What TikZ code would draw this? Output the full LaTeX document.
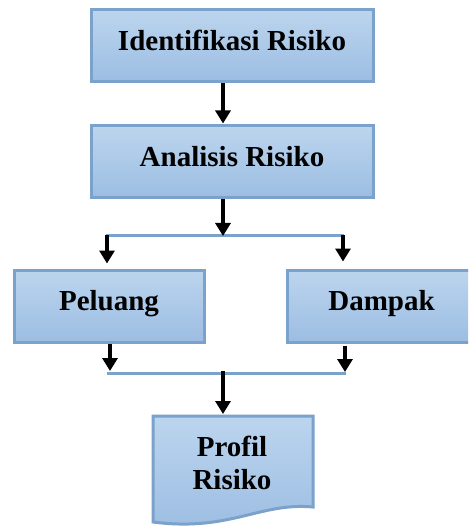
\documentclass[tikz,border=0pt]{standalone}
\usepackage{fontspec}
\setmainfont{Liberation Serif}
\usetikzlibrary{arrows.meta}
\definecolor{boxtop}{HTML}{BCD5EE}
\definecolor{boxbot}{HTML}{9CBDE2}
\definecolor{boxline}{HTML}{7BA2CA}
\tikzset{
  box/.style={draw=boxline, line width=3pt, top color=boxtop, bottom color=boxbot, rectangle, inner sep=0pt},
  txt/.style={font=\fontsize{29}{33}\selectfont\bfseries, inner sep=0pt, anchor=base, align=center},
  arr/.style={draw=black, line width=3.2pt, -{Triangle[width=15pt,length=13pt]}},
  bar/.style={draw=boxline, line width=3pt},
}
\begin{document}
\begin{tikzpicture}[x=1pt,y=-1pt]
\useasboundingbox (0,0) rectangle (468,526);
\clip (0,0) rectangle (468,526);
% boxes
\node[box, minimum width=282pt, minimum height=72pt] (b1) at (232,46) {};
\node[box, minimum width=282pt, minimum height=72pt] (b2) at (232,162) {};
\node[box, minimum width=190pt, minimum height=72pt] (b3) at (109,306) {};
\node[box, minimum width=200pt, minimum height=72pt] (b4) at (387,306) {};
% document shape
\path[box] (153,416) -- (313,416) -- (313,507) .. controls (260,502) and (230,532) .. (153,522) -- cycle;
\coordinate (b5top) at (223,416);
% texts
\node[txt] (t1) at (232,51) {Identifikasi Risiko};
\node[txt] (t2) at (232,167) {Analisis Risiko};
\node[txt] (t3) at (109,310) {Peluang};
\node[txt] (t4) at (381.5,310) {Dampak};
\node[txt] (t5) at (232,489) {Profil\\Risiko};
% coordinates
\coordinate (c1) at (223,0);
\coordinate (s1) at (106,235);
\coordinate (s2) at (344,235);
\coordinate (sm) at (223,235);
\coordinate (m1) at (107,373);
\coordinate (m2) at (346,373);
\coordinate (mm) at (223,373);
\coordinate (l1) at (107,0);
\coordinate (r1) at (343,0);
\coordinate (l2) at (110,0);
\coordinate (r2) at (345,0);
% bars
\draw[bar] (s1) -- (s2);
\draw[bar] (m1) -- (m2);
% arrows
\draw[arr] (b1.south -| c1) -- ([yshift=1pt]b2.north -| c1);
\draw[arr] (b2.south -| c1) -- ([yshift=-1pt]sm);
\draw[arr] (s1 -| l1) -- ([yshift=5pt]b3.north -| l1);
\draw[arr] (s2 -| r1) -- ([yshift=7pt]b4.north -| r1);
\draw[arr] (b3.south -| l2) -- ([yshift=2pt]m1 -| l2);
\draw[arr] ([yshift=-2pt]b4.south -| r2) -- ([yshift=1pt]m2 -| r2);
\draw[arr] ([yshift=2pt]mm) -- ([yshift=2pt]b5top);
\end{tikzpicture}
\end{document}
